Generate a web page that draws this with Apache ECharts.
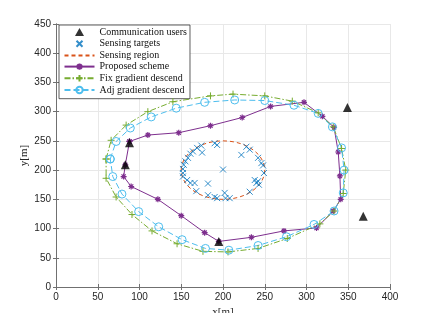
<!DOCTYPE html>
<html><head><meta charset="utf-8">
<script src="https://cdn.jsdelivr.net/npm/echarts@6/dist/echarts.min.js"></script>
<style>html,body{margin:0;padding:0;background:#fff}#c{width:431px;height:313px}</style>
</head><body><div id="c"></div>
<script>
// ---- data ----
const xRange = [0, 400];
const yRange = [0, 450];
const tickStep = 50;

const commUsers = [[83,209],[88,247],[195,78],[349,307],[368,121]];

const sensingTargets = [
  [190,246],[193,243],[174,242],[169,238],[175,230],[164,232],[161,228],[158,221],
  [155,215],[153,209],[152,202],[152,195],[152,189],[157,183],[161,178],[166,178],
  [168,164],[182,177],[182,157],[190,154],[193,152],[200,201],[202,161],[203,152],
  [208,152],[222,226],[228,240],[232,235],[242,221],[246,212],[248,208],[249,195],
  [238,183],[240,178],[243,175],[242,181],[232,163]
];

// center x, center y, radius
const sensingRegion = [[200,200,50]];

const proposed = [
  [88,249],[110,260],[147,264],[185,276],[223,290],[257,309],[297,316],[319,292],
  [333,273],[338,231],[340,190],[341,150],[332,130],[312,101],[273,96],[234,85],
  [195,78],[178,93],[150,122],[122,150],[90,172],[81,189],[83,209],[88,249]
];

const fixGrad = [
  [60,219],[66,251],[84,277],[110,300],[140,317],[185,327],[212,330],[250,327],
  [283,318],[314,298],[332,274],[342,237],[347,200],[344,160],[333,130],[316,108],
  [277,83],[242,66],[206,60],[176,61],[145,74],[115,96],[91,124],[72,154],[60,186],[60,219]
];

const adjGrad = [
  [65,219],[72,249],[89,272],[114,291],[144,306],[178,316],[214,320],[250,319],
  [285,311],[314,297],[331,274],[342,238],[345,200],[344,161],[333,130],[309,107],
  [276,86],[242,71],[207,63],[179,66],[151,81],[123,103],[99,129],[79,159],[68,189],[65,219]
];

// ---- styles ----
const C_BLUE = '#0072BD', C_ORANGE = '#D95319', C_PURPLE = '#7E2F8E',
      C_GREEN = '#77AC30', C_CYAN = '#4DBEEE';
const SYM_X = 'path://M0,0L10,10M10,0L0,10';
const SYM_PLUS = 'path://M5,0L5,10M0,5L10,5';
const SYM_STAR = 'path://M5,0L5,10M0,5L10,5M1.5,1.5L8.5,8.5M8.5,1.5L1.5,8.5';
// legend icons padded to the 30x8 legend box so they are not stretched
const LEG_TRI = 'path://M0,0M30,8M15,0L19.5,8L10.5,8Z';
const LEG_X = 'path://M0,0M30,8M12,1L18,7M18,1L12,7';
const AX = '#707070';
const tickFont = {fontFamily: 'Liberation Sans', fontSize: 10, color: '#262626'};

const chart = echarts.init(document.getElementById('c'), null, {renderer: 'canvas'});
chart.setOption({
  animation: false,
  backgroundColor: '#fff',
  grid: {left: 56, right: 41, top: 24, bottom: 26, containLabel: false, outerBoundsMode: 'none'},
  xAxis: [{
    type: 'value', min: xRange[0], max: xRange[1], interval: tickStep,
    name: 'x[m]', nameLocation: 'middle', nameGap: 18,
    nameTextStyle: {fontFamily: 'Liberation Serif', fontSize: 11, color: '#262626'},
    axisLine: {show: true, lineStyle: {color: AX, width: 1}},
    axisTick: {show: true, inside: true, length: 3, lineStyle: {color: AX}},
    axisLabel: Object.assign({margin: 5}, tickFont),
    splitLine: {show: true, lineStyle: {color: '#e8e8e8', width: 1}}
  }, {
    type: 'value', position: 'top', min: xRange[0], max: xRange[1], interval: tickStep,
    axisLine: {show: true, lineStyle: {color: AX, width: 1}},
    axisTick: {show: true, inside: true, length: 3, lineStyle: {color: AX}},
    axisLabel: {show: false}, splitLine: {show: false}
  }],
  yAxis: [{
    type: 'value', min: yRange[0], max: yRange[1], interval: tickStep,
    name: 'y[m]', nameLocation: 'middle', nameGap: 26, nameRotate: 90,
    nameMoveOverlap: false,
    nameTextStyle: {fontFamily: 'Liberation Serif', fontSize: 11, color: '#262626'},
    axisLine: {show: true, lineStyle: {color: AX, width: 1}},
    axisTick: {show: true, inside: true, length: 3, lineStyle: {color: AX}},
    axisLabel: Object.assign({margin: 5}, tickFont),
    splitLine: {show: true, lineStyle: {color: '#e8e8e8', width: 1}}
  }, {
    type: 'value', position: 'right', min: yRange[0], max: yRange[1], interval: tickStep,
    axisLine: {show: true, lineStyle: {color: AX, width: 1}},
    axisTick: {show: true, inside: true, length: 3, lineStyle: {color: AX}},
    axisLabel: {show: false}, splitLine: {show: false}
  }],
  legend: {
    orient: 'vertical', left: 59, top: 25,
    padding: [2, 3, 3, 3],
    backgroundColor: '#fff', borderColor: '#333', borderWidth: 0.8,
    itemWidth: 30, itemHeight: 8, itemGap: 0.3,
    textStyle: {fontFamily: 'Liberation Serif', fontSize: 10, lineHeight: 10, color: '#111'},
    data: [
      {name: 'Communication users', icon: LEG_TRI},
      {name: 'Sensing targets', icon: LEG_X},
      'Sensing region', 'Proposed scheme', 'Fix gradient descend', 'Adj gradient descend'
    ]
  },
  series: [
    {
      name: 'Sensing region circle', type: 'custom', data: sensingRegion,
      z: 2,
      renderItem: function (params, api) {
        const c = api.coord([api.value(0), api.value(1)]);
        const e = api.coord([api.value(0) + api.value(2), api.value(1) + api.value(2)]);
        return {
          type: 'ellipse',
          shape: {cx: c[0], cy: c[1], rx: Math.abs(e[0] - c[0]), ry: Math.abs(e[1] - c[1])},
          style: {fill: 'none', stroke: C_ORANGE, lineWidth: 1, lineDash: [4, 3]}
        };
      }
    },
    {
      name: 'Sensing region', type: 'line', data: [], symbol: 'none',
      lineStyle: {color: C_ORANGE, width: 1, type: [4, 3]},
      itemStyle: {color: 'rgba(0,0,0,0)'}
    },
    {
      name: 'Sensing targets', type: 'scatter', data: sensingTargets,
      symbol: SYM_X, symbolSize: 6, z: 3,
      itemStyle: {color: 'none', borderColor: C_BLUE, borderWidth: 1}
    },
    {
      name: 'Proposed scheme', type: 'line', data: proposed,
      symbol: SYM_STAR, symbolSize: 6, showAllSymbol: true, z: 4,
      lineStyle: {color: C_PURPLE, width: 1},
      itemStyle: {color: 'none', borderColor: C_PURPLE, borderWidth: 1.2}
    },
    {
      name: 'Fix gradient descend', type: 'line', data: fixGrad,
      symbol: SYM_PLUS, symbolSize: 7, showAllSymbol: true, z: 4,
      lineStyle: {color: C_GREEN, width: 1, type: [6, 2, 1.5, 2]},
      itemStyle: {color: 'none', borderColor: C_GREEN, borderWidth: 1}
    },
    {
      name: 'Adj gradient descend', type: 'line', data: adjGrad,
      symbol: 'circle', symbolSize: 8, showAllSymbol: true, z: 4,
      lineStyle: {color: C_CYAN, width: 1, type: [6, 3]},
      itemStyle: {color: 'none', borderColor: C_CYAN, borderWidth: 1}
    },
    {
      name: 'Communication users', type: 'scatter', data: commUsers,
      symbol: 'triangle', symbolSize: 9, z: 6,
      itemStyle: {color: '#000'}
    }
  ]
});
</script>
</body></html>
